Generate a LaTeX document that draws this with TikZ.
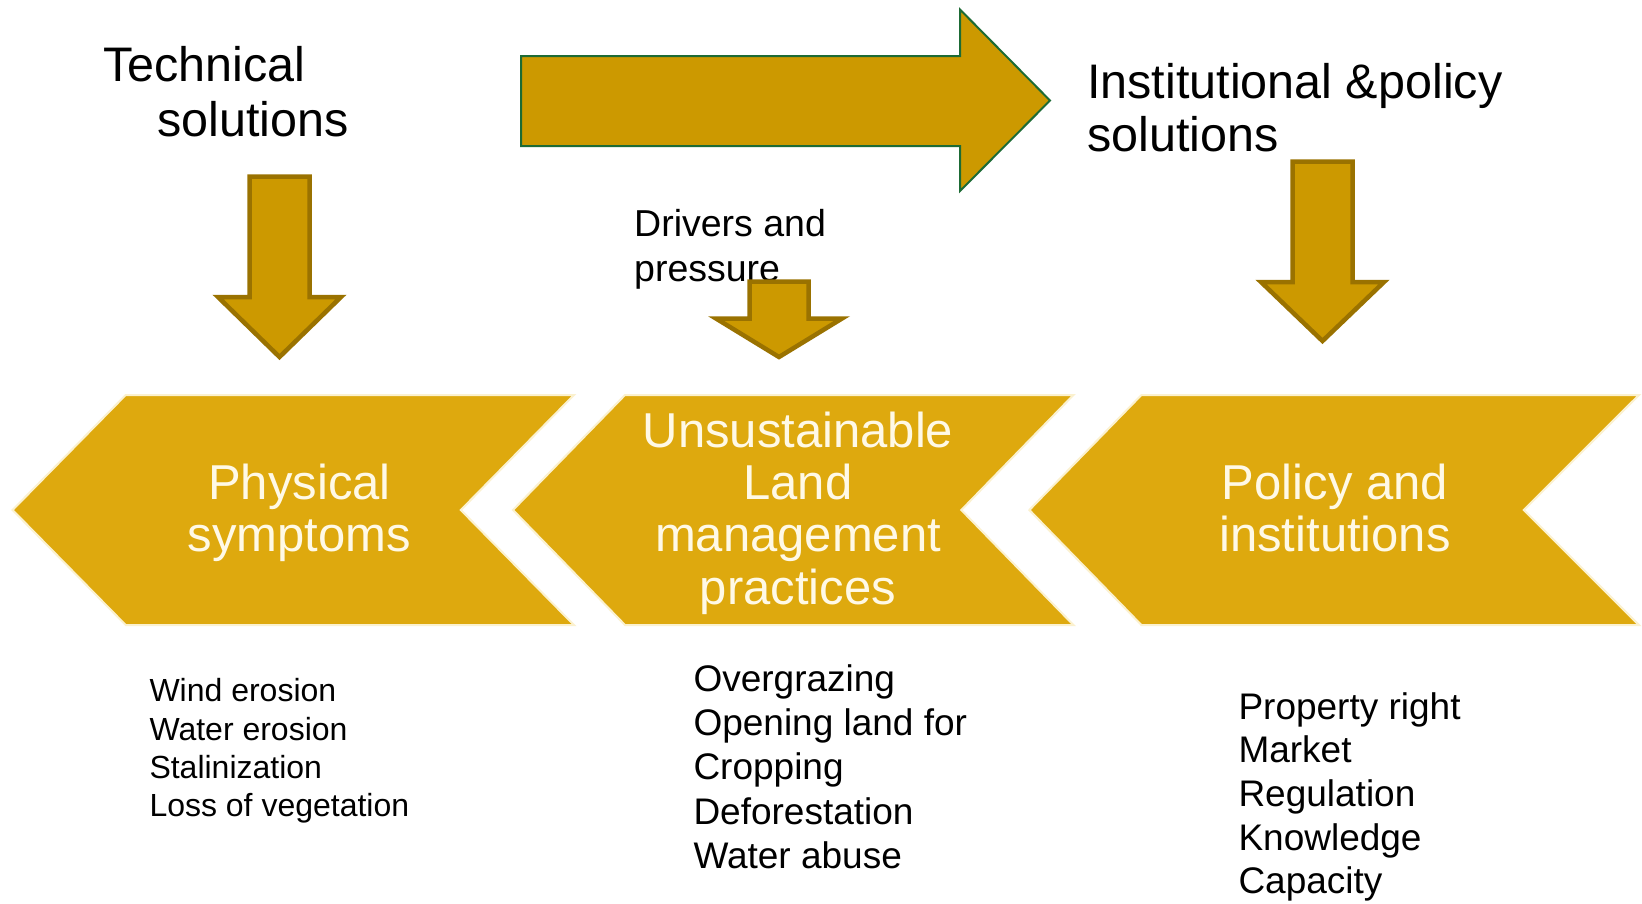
\documentclass[tikz,border=0pt]{standalone}
\usepackage{fontspec}
\setmainfont{Liberation Sans}
\definecolor{arrowfill}{HTML}{CC9900}
\definecolor{arrowline}{HTML}{9A7200}
\definecolor{greenline}{HTML}{1D6B35}
\definecolor{chevfill}{HTML}{DEA90E}
\definecolor{chevedge}{HTML}{FBF1CF}
\definecolor{chevtext}{HTML}{FFF9E6}
\begin{document}
\begin{tikzpicture}[x=1pt,y=-1pt,
  title/.style={font=\fontsize{48.5}{58}\selectfont, anchor=base west, inner sep=0pt},
  drvtext/.style={font=\fontsize{37.5}{45}\selectfont, anchor=base west, inner sep=0pt},
  listsmall/.style={font=\fontsize{32}{38}\selectfont, anchor=base west, inner sep=0pt},
  listbig/.style={font=\fontsize{37}{44}\selectfont, anchor=base west, inner sep=0pt},
  chevlabel/.style={font=\fontsize{49}{52}\selectfont, anchor=base, inner sep=0pt, text=chevtext},
  chevshape/.style={fill=chevfill, draw=chevedge, line width=2pt, line join=miter},
  downarrow/.style={fill=arrowfill, draw=arrowline, line width=4.5pt, line join=miter},
  bigarrow/.style={fill=arrowfill, draw=greenline, line width=2pt, line join=miter}]
\useasboundingbox (0,0) rectangle (1642,903);
\fill[white] (0,0) rectangle (1642,903);

% chevrons
\draw[chevshape] (12.6,510) -- (125.7,395) -- (573.9,395) -- (460.8,510) -- (573.9,625) -- (125.7,625) -- cycle;
\draw[chevshape] (513,510) -- (625,395) -- (1073.4,395) -- (961.3,510) -- (1073.4,625) -- (625,625) -- cycle;
\draw[chevshape] (1029.4,510) -- (1141.4,395) -- (1638.9,395) -- (1523.7,510) -- (1638.9,625) -- (1141.4,625) -- cycle;

% chevron labels
\node[chevlabel] (c1a) at (299.5,499.5) {Physical};
\node[chevlabel] (c1b) at (299.5,551.9) {symptoms};
\node[chevlabel] (c2a) at (798,447) {Unsustainable};
\node[chevlabel] (c2b) at (798,499.5) {Land};
\node[chevlabel] (c2c) at (798,551.9) {management};
\node[chevlabel] (c2d) at (798,604.2) {practices};
\node[chevlabel] (c3a) at (1335,499.5) {Policy and};
\node[chevlabel] (c3b) at (1335,551.9) {institutions};

% titles
\node[title] (tech1) at (103,81.7) {Technical};
\node[title] (tech2) at (157,136) {solutions};
\node[title] (inst1) at (1087,98.3) {Institutional \&policy};
\node[title] (inst2) at (1087,151.7) {solutions};
\node[drvtext] (drv1) at (634,236.7) {Drivers and};
\node[drvtext] (drv2) at (634,281) {pressure};

% big right arrow
\draw[bigarrow] (521,56) -- (960,56) -- (960,9.5) -- (1050,100.5) -- (960,191) -- (960,146) -- (521,146) -- cycle;

% down arrows
\draw[downarrow] (249.5,176.5) -- (309.5,176.5) -- (309.5,297) -- (341,297) -- (279.5,357) -- (218,297) -- (249.5,297) -- cycle;
\draw[downarrow] (749.5,281.5) -- (808.5,281.5) -- (808.5,318.5) -- (842,318.5) -- (779,357) -- (716,318.5) -- (749.5,318.5) -- cycle;
\draw[downarrow] (1292.5,161.5) -- (1352.5,161.5) -- (1352.5,282) -- (1384,282) -- (1322.5,341) -- (1261,282) -- (1292.5,282) -- cycle;

% lists
\node[listsmall] (l1) at (149.3,701.7) {Wind erosion};
\node[listsmall] (l2) at (149.3,740) {Water erosion};
\node[listsmall] (l3) at (149.3,778.3) {Stalinization};
\node[listsmall] (l4) at (149.3,816) {Loss of vegetation};

\node[listbig] (m1) at (693.3,691.5) {Overgrazing};
\node[listbig] (m2) at (693.3,735.7) {Opening land for};
\node[listbig] (m3) at (693.3,779.9) {Cropping};
\node[listbig] (m4) at (693.3,824.1) {Deforestation};
\node[listbig] (m5) at (693.3,868.3) {Water abuse};

\node[listbig] (r1) at (1238.3,719) {Property right};
\node[listbig] (r2) at (1238.3,762.7) {Market};
\node[listbig] (r3) at (1238.3,806.4) {Regulation};
\node[listbig] (r4) at (1238.3,850.1) {Knowledge};
\node[listbig] (r5) at (1238.3,893.8) {Capacity};
\end{tikzpicture}
\end{document}
